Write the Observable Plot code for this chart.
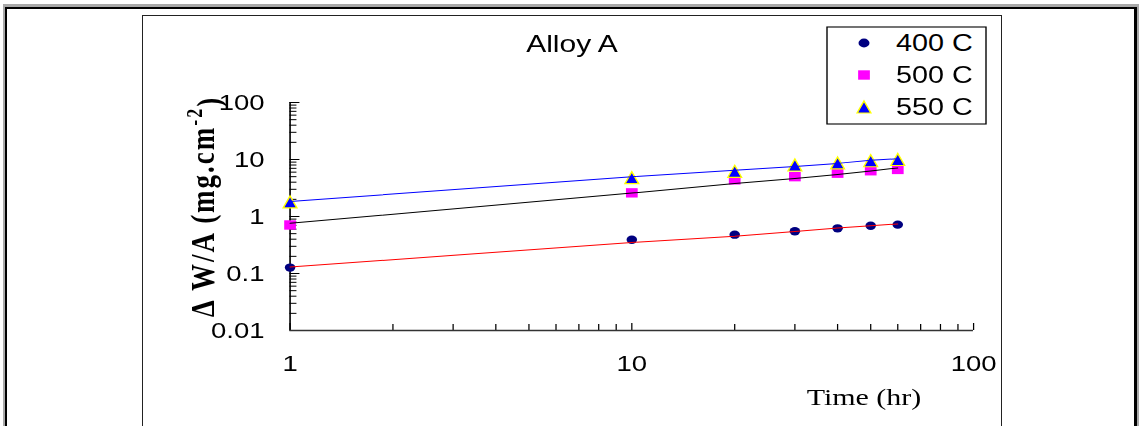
<!DOCTYPE html>
<html>
<head>
<meta charset="utf-8">
<script src="https://cdn.jsdelivr.net/npm/d3@7"></script>
<script src="https://cdn.jsdelivr.net/npm/@observablehq/plot@0.6"></script>
<style>
  html, body { margin: 0; padding: 0; background: #fff; }
  body { width: 1139px; height: 426px; overflow: hidden; position: relative; }
  #outer { position: absolute; left: 3px; top: 4px; width: 1137px; height: 600px; box-sizing: border-box;
           border-top: 3px solid #a9a9a9; border-left: 2px solid #a9a9a9; border-right: 3px solid #a9a9a9; }
  #outerInner { position: absolute; left: 0; top: 0; right: 0; bottom: 0;
           border-top: 2px solid #000; border-left: 2px solid #000; border-right: 3px solid #000; }
  #frame { position: absolute; left: 142px; top: 15px; width: 860px; height: 600px; box-sizing: border-box; border: 1px solid #222; }
  #wrap { position: absolute; left: 0; top: 0; width: 911px; height: 426px; transform-origin: 0 0; }
  #wrap > svg { position: absolute; left: 0; top: 0; }
</style>
</head>
<body>
<div id="outer"><div id="outerInner"></div></div>
<div id="frame"></div>
<div id="wrap"></div>
<script>
// ---- data ----
const times = [1, 10, 20, 30, 40, 50, 60];
const seriesNames = ["400 C", "500 C", "550 C"];
const gain400 = [0.127, 0.39, 0.48, 0.55, 0.62, 0.69, 0.72];
const gain500 = [0.71, 2.6, 4.4, 5.0, 5.75, 6.35, 6.7];
const gain550 = [1.8, 4.8, 6.2, 8.0, 8.7, 9.5, 10.0];
const fit400 = [0.13, 0.35, 0.45, 0.545, 0.63, 0.69, 0.74];
const fit500 = [0.76, 2.58, 3.8, 4.65, 5.45, 6.3, 7.1];
const fit550 = [1.83, 5.0, 6.5, 7.5, 8.55, 9.7, 10.3];
const xMajor = [1, 10, 100];
const xTickLabels = ["1", "10", "100"];
const yMajor = [0.01, 0.1, 1, 10, 100];
const yTickLabels = ["0.01", "0.1", "1", "10", "100"];
const minorSteps = [2, 3, 4, 5, 6, 7, 8, 9];
const titleText = "Alloy A";
const xLabel = "Time (hr)";
const yLabelMain = "\u0394 W/A (mg.cm";
const yLabelSup = "-2";
const yLabelEnd = ")";

// minor tick positions per decade
const xMinor = xMajor.slice(0, -1).flatMap(d => minorSteps.map(m => d * m));
const yMinor = yMajor.slice(0, -1).flatMap(d => minorSteps.map(m => +(d * m).toPrecision(3)));

const colors = {"400 C": "#000080", "500 C": "#ff00ff", "550 C": "#0000ff"};
const lineColors = {"400 C": "#ff0000", "500 C": "#000000", "550 C": "#0000ff"};

const rows = (vals, name) => times.map((t, i) => ({time: t, value: vals[i], series: name}));
const pts400 = rows(gain400, seriesNames[0]);
const pts500 = rows(gain500, seriesNames[1]);
const pts550 = rows(gain550, seriesNames[2]);
const fits = [...rows(fit400, seriesNames[0]), ...rows(fit500, seriesNames[1]), ...rows(fit550, seriesNames[2])];

const tri = {
  draw(ctx, size) {
    const r = Math.sqrt(size / Math.PI);
    ctx.moveTo(0, -1.2 * r);
    ctx.lineTo(1.1 * r, 1.2 * r);
    ctx.lineTo(-1.1 * r, 1.2 * r);
    ctx.closePath();
  }
};

const W = 911, H = 426;
const S = 1139 / W;
const wrap = document.getElementById("wrap");
wrap.style.transform = `scaleX(${S})`;

const fmt = (ticks, labels) => d => labels[ticks.indexOf(d)] ?? "";

const chart = Plot.plot({
  width: W, height: H,
  marginLeft: 231.5, marginRight: 132.8, marginTop: 102, marginBottom: 96,
  style: {fontFamily: "'Liberation Sans', Arial, sans-serif", fontSize: "22px", color: "#000", background: "transparent", overflow: "visible"},
  x: {type: "log", domain: [1, 100]},
  y: {type: "log", domain: [0.01, 100]},
  marks: [
    Plot.axisY(yMinor, {tickSize: -5.6, tickFormat: () => "", label: null, stroke: "#000"}),
    Plot.axisY(yMajor, {tickSize: -8, tickFormat: () => "", label: null, stroke: "#000"}),
    Plot.axisY(yMajor, {tickSize: 0, tickPadding: 20.4, tickFormat: fmt(yMajor, yTickLabels), label: null, fontSize: 22, fill: "#000"}),
    Plot.axisX(xMinor, {tickSize: -6, tickFormat: () => "", label: null, stroke: "#000"}),
    Plot.axisX(xMajor, {tickSize: -7, tickFormat: () => "", label: null, stroke: "#000"}),
    Plot.axisX(xMajor, {tickSize: 0, tickPadding: 25, tickFormat: fmt(xMajor, xTickLabels), label: null, fontSize: 22, fill: "#000"}),
    Plot.ruleX([xMajor[0]], {stroke: "#000", strokeWidth: 1.3}),
    Plot.ruleY([yMajor[0]], {stroke: "#333", strokeWidth: 1.5}),
    Plot.dot(pts400, {x: "time", y: "value", r: 4.2, fill: colors["400 C"], stroke: "none"}),
    Plot.dot(pts500, {x: "time", y: "value", r: 5.3, symbol: "square", fill: colors["500 C"], stroke: "none"}),
    Plot.dot(pts550, {x: "time", y: "value", r: 5, symbol: tri, fill: colors["550 C"], stroke: "#ffff00", strokeWidth: 1.2}),
    Plot.line(fits, {x: "time", y: "value", z: "series", stroke: d => lineColors[d.series], strokeWidth: 1})
  ]
});
wrap.appendChild(chart);

// overlay: title, axis titles, legend
const ov = d3.select(wrap).append("svg")
  .attr("width", W).attr("height", H)
  .style("overflow", "visible");

ov.append("text")
  .attr("x", 572 / S).attr("y", 51.7)
  .attr("text-anchor", "middle")
  .attr("font-family", "'Liberation Sans', Arial, sans-serif")
  .attr("font-size", 24)
  .attr("fill", "#000")
  .text(titleText);

ov.append("text")
  .attr("x", 864 / S).attr("y", 405)
  .attr("text-anchor", "middle")
  .attr("font-family", "'Liberation Serif', 'Times New Roman', serif")
  .attr("font-size", 24)
  .attr("fill", "#000")
  .text(xLabel);

const yl = ov.append("text")
  .attr("transform", `translate(${214 / S},206.5) rotate(-90)`)
  .attr("text-anchor", "middle")
  .attr("font-family", "'Liberation Serif', 'Times New Roman', serif")
  .attr("font-weight", "bold")
  .attr("font-size", 27)
  .style("letter-spacing", "2px")
  .attr("fill", "#000");
yl.append("tspan").text(yLabelMain);
yl.append("tspan").attr("dy", "-0.55em").attr("font-size", 18).text(yLabelSup);
yl.append("tspan").attr("dy", "0.55em").text(yLabelEnd);

// legend
const lg = ov.append("g");
lg.append("rect")
  .attr("x", 827 / S).attr("y", 27)
  .attr("width", (986 - 827) / S).attr("height", 97)
  .attr("fill", "#fff").attr("stroke", "#000").attr("stroke-width", 1.1);
const legendY = [43, 75, 107];
const mx = 864 / S, tx = 896 / S;
seriesNames.forEach((name, i) => {
  const y = legendY[i];
  if (i === 0) {
    lg.append("circle").attr("cx", mx).attr("cy", y).attr("r", 4.4).attr("fill", colors[name]);
  } else if (i === 1) {
    lg.append("path").attr("transform", `translate(${mx},${y})`)
      .attr("d", d3.symbol().type(d3.symbolSquare).size(Math.PI * 5.3 * 5.3)()).attr("fill", colors[name]);
  } else {
    lg.append("path").attr("transform", `translate(${mx},${y})`)
      .attr("d", d3.symbol().type(tri).size(Math.PI * 5 * 5)())
      .attr("fill", colors[name]).attr("stroke", "#ffff00").attr("stroke-width", 1.2);
  }
  lg.append("text")
    .attr("x", tx).attr("y", y + 8.5)
    .attr("font-family", "'Liberation Sans', Arial, sans-serif")
    .attr("font-size", 23)
    .attr("fill", "#000")
    .text(name);
});
</script>
</body>
</html>
